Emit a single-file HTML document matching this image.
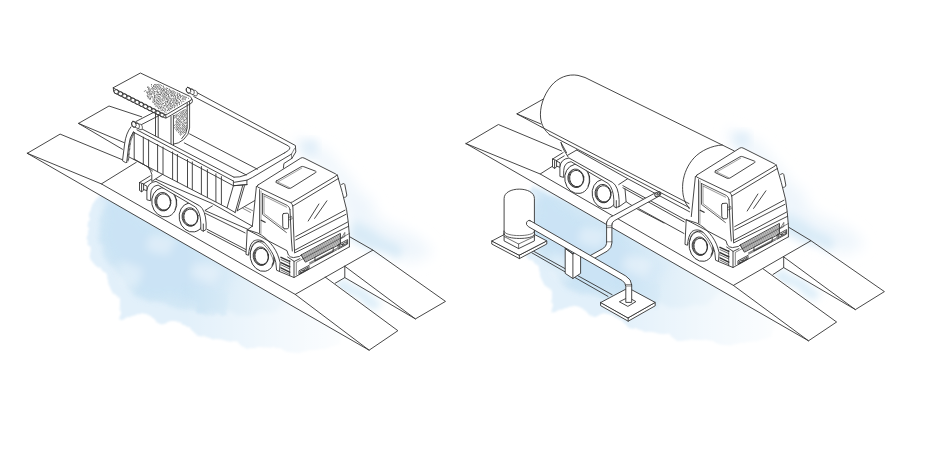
<!DOCTYPE html>
<html><head><meta charset="utf-8"><title>Weighbridge illustration</title>
<style>html,body{margin:0;padding:0;background:#fff;font-family:"Liberation Sans",sans-serif;}
svg{display:block}</style></head>
<body>
<svg width="938" height="453" viewBox="0 0 938 453" stroke-linecap="round" stroke-linejoin="round">
<defs>
<filter id="wcA" x="-15%" y="-15%" width="130%" height="130%">
<feTurbulence type="fractalNoise" baseFrequency="0.045" numOctaves="4" seed="3" result="n"/>
<feDisplacementMap in="SourceGraphic" in2="n" scale="14" xChannelSelector="R" yChannelSelector="G" result="d"/>
<feGaussianBlur in="d" stdDeviation="1.3"/>
</filter>
<filter id="wcA2" x="-15%" y="-15%" width="130%" height="130%">
<feTurbulence type="fractalNoise" baseFrequency="0.045" numOctaves="4" seed="8" result="n"/>
<feDisplacementMap in="SourceGraphic" in2="n" scale="14" xChannelSelector="R" yChannelSelector="G" result="d"/>
<feGaussianBlur in="d" stdDeviation="2.2"/>
</filter>
<filter id="wcS"><feGaussianBlur stdDeviation="0.8"/></filter>
<filter id="wcB" x="-15%" y="-15%" width="130%" height="130%">
<feTurbulence type="fractalNoise" baseFrequency="0.03" numOctaves="3" seed="11" result="n"/>
<feDisplacementMap in="SourceGraphic" in2="n" scale="18" xChannelSelector="R" yChannelSelector="G" result="d"/>
<feGaussianBlur in="d" stdDeviation="4"/>
</filter>
<filter id="wcC" x="-20%" y="-20%" width="140%" height="140%">
<feTurbulence type="fractalNoise" baseFrequency="0.03" numOctaves="3" seed="5" result="n"/>
<feDisplacementMap in="SourceGraphic" in2="n" scale="14" xChannelSelector="R" yChannelSelector="G" result="d"/>
<feGaussianBlur in="d" stdDeviation="7"/>
</filter>
<clipPath id="clipL"><path d="M0,137.6 L27.3,153.3 L369.1,350.2 L420,380 L420,453 L0,453Z"/></clipPath>
<clipPath id="clipR"><path d="M440,128.6 L466,143.6 L808.5,340.8 L880,382 L880,453 L440,453Z"/></clipPath>
<clipPath id="pitL"><path d="M344.8,277.6 L335.2,283.2 L397.9,330.7 L415.4,318.9Z"/></clipPath>
<clipPath id="pitR"><path d="M783.7,267.6 L773,274.5 L836.6,322 L855.4,309.6Z"/></clipPath>
<linearGradient id="fadeL" gradientUnits="userSpaceOnUse" x1="185" y1="0" x2="345" y2="0"><stop offset="0" stop-color="#fff" stop-opacity="0"/><stop offset="0.55" stop-color="#fff" stop-opacity="0.55"/><stop offset="1" stop-color="#fff" stop-opacity="0.9"/></linearGradient>
</defs>
<g clip-path="url(#clipL)"><g transform="translate(0,0)">
<path d="M118,203 L140,212 L200,240 L300,290 L350,322 L340,343 L300,352 L262,349 L229,341 L195,335 L175,321 L141,316 L122,318 L118,299 L98,271 L86,240 L89,216 L100,196 Z" fill="#e2f0fa" filter="url(#wcA)"/>
<path d="M120,204 L150,216 L200,242 L262,275 L292,296 L268,312 L238,318 L221,309 L200,314 L175,306 L146,300 L128,288 L110,262 L98,238 L100,216 L108,204 Z" fill="#d3e8f6" filter="url(#wcA2)"/>
<path d="M104,196 L180,238 L240,272 L222,300 L196,306 L170,298 L140,290 L120,270 L104,240 Z" fill="#c8e2f4" opacity="0.75" filter="url(#wcB)"/>
<path d="M183,286 L226,291 L228,314 L198,313 Z" fill="#c9e3f4" opacity="0.8" filter="url(#wcA)"/>
<path d="M150,232 L175,238 L168,258 L146,250 Z M196,262 L222,270 L214,284 L192,278 Z M120,262 L140,266 L136,286 L118,280 Z" fill="#ffffff" opacity="0.35" filter="url(#wcB)"/>
<rect x="170" y="215" width="230" height="160" fill="url(#fadeL)"/>
</g></g>
<g transform="translate(0,0)">
<path d="M297,136 L320,146 L352,180 L380,212 L412,238 L432,254 L414,264 L388,254 L362,242 L346,215 L336,180 L300,150 Z" fill="#eff6fc" filter="url(#wcC)"/>
<path d="M352,218 L378,234 L404,250 L396,259 L372,250 L350,238 Z" fill="#d9ebf7" filter="url(#wcB)"/>
<path d="M296,138 L312,144 L318,156 L304,152 Z" fill="#e2eff9" filter="url(#wcB)"/>
</g>
<g clip-path="url(#pitL)"><path transform="translate(0,0)" d="M344.8,277.6 L335.2,283.2 L372,311 L384,303Z" fill="#d6eaf7" filter="url(#wcB)"/></g>
<g clip-path="url(#clipR)"><g transform="translate(432,-7.5)">
<path d="M118,203 L140,212 L200,240 L300,290 L350,322 L340,343 L300,352 L262,349 L229,341 L195,335 L175,321 L141,316 L122,318 L118,299 L98,271 L86,240 L89,216 L100,196 Z" fill="#e2f0fa" filter="url(#wcA)"/>
<path d="M120,204 L150,216 L200,242 L262,275 L292,296 L268,312 L238,318 L221,309 L200,314 L175,306 L146,300 L128,288 L110,262 L98,238 L100,216 L108,204 Z" fill="#d3e8f6" filter="url(#wcA2)"/>
<path d="M104,196 L180,238 L240,272 L222,300 L196,306 L170,298 L140,290 L120,270 L104,240 Z" fill="#c8e2f4" opacity="0.75" filter="url(#wcB)"/>
<path d="M183,286 L226,291 L228,314 L198,313 Z" fill="#c9e3f4" opacity="0.8" filter="url(#wcA)"/>
<path d="M150,232 L175,238 L168,258 L146,250 Z M196,262 L222,270 L214,284 L192,278 Z M120,262 L140,266 L136,286 L118,280 Z" fill="#ffffff" opacity="0.35" filter="url(#wcB)"/>
<rect x="170" y="215" width="230" height="160" fill="url(#fadeL)"/>
</g></g>
<g transform="translate(432,-8)">
<path d="M297,136 L320,146 L352,180 L380,212 L412,238 L432,254 L414,264 L388,254 L362,242 L346,215 L336,180 L300,150 Z" fill="#eff6fc" filter="url(#wcC)"/>
<path d="M352,218 L378,234 L404,250 L396,259 L372,250 L350,238 Z" fill="#d9ebf7" filter="url(#wcB)"/>
<path d="M296,138 L312,144 L318,156 L304,152 Z" fill="#e2eff9" filter="url(#wcB)"/>
</g>
<g clip-path="url(#pitR)"><path transform="translate(438.9,-9.7)" d="M344.8,277.6 L335.2,283.2 L372,311 L384,303Z" fill="#d6eaf7" filter="url(#wcB)"/></g>
<path d="M27.3,153.3L369.1,350.2" fill="none" stroke="#333333" stroke-width="0.9" />
<path d="M27.3,153.3L60.1,134.1L122.3,159.7" fill="none" stroke="#333333" stroke-width="0.9" />
<path d="M27.3,153.3L101.4,183.9L136.3,162.3" fill="none" stroke="#333333" stroke-width="0.9" />
<path d="M101.4,183.9L295.2,294.4L372.9,250.1L349.6,236.7" fill="none" stroke="#333333" stroke-width="0.9" />
<path d="M124.3,142.7L78.5,123.4L109,106L141.7,116.8" fill="none" stroke="#333333" stroke-width="0.9" />
<path d="M78.5,123.4L122.5,149.3" fill="none" stroke="#333333" stroke-width="0.9" />
<path d="M295.2,294.4L369.1,350.2L397.9,330.7L325.2,277.1" fill="none" stroke="#333333" stroke-width="0.9" />
<path d="M344.8,266.3L344.8,277.6L335.2,283.2" fill="none" stroke="#333333" stroke-width="0.9" />
<path d="M344.8,266.3L415.4,318.9L445.5,301.4L372.9,250.1" fill="none" stroke="#333333" stroke-width="0.9" />
<path d="M344.8,277.6L415.4,318.9" fill="none" stroke="#333333" stroke-width="0.9" />
<path d="M196.4,92.3 L295.4,145.5 L295.8,151.9 L292,158.3" fill="none" stroke="#333333" stroke-width="0.9" />
<path d="M193.8,96.6 L288.5,146 Q290.4,147.4 289.6,149 Q288.8,150.6 284.7,152.8" fill="none" stroke="#333333" stroke-width="0.9" />
<path d="M294.5,148.5 L291.5,154.1 L291.6,158.3" fill="none" stroke="#333333" stroke-width="0.6" />
<path d="M187.57,87.45 L194.17,90.35 L194.17,90.35L194.86,90.28L195.58,90.50L196.25,90.98L196.80,91.68L197.19,92.52L197.38,93.44L197.34,94.33L197.08,95.11L196.63,95.71L196.03,96.06 L189.43,93.15L189.43,93.15L188.74,93.22L188.02,93.01L187.35,92.53L186.80,91.83L186.41,90.98L186.22,90.06L186.26,89.17L186.52,88.39L186.97,87.80L187.57,87.45Z" fill="#ffffff" stroke="#333333" stroke-width="0.8" />
<ellipse cx="188.5" cy="90.3" rx="2.2" ry="3.0" transform="rotate(-18 188.5 90.3)" fill="none" stroke="#333333" stroke-width="0.8"/>
<path d="M191.00,88.96L191.70,88.89L192.41,89.10L193.08,89.58L193.64,90.28L194.02,91.13L194.21,92.05L194.17,92.94L193.91,93.72L193.46,94.31L192.86,94.66" fill="none" stroke="#333333" stroke-width="0.8" />
<path d="M189.6,133.9L257.4,169.2" fill="none" stroke="#333333" stroke-width="0.9" />
<path d="M184.3,142.9L246.3,175" fill="none" stroke="#333333" stroke-width="0.9" />
<path d="M284.7,152.8 L245.5,175 Q240,177.6 234,177.2" fill="none" stroke="#333333" stroke-width="0.9" />
<path d="M291.5,154.1 L252.3,177.5 L246.9,180.2 L234.1,182.3" fill="none" stroke="#333333" stroke-width="0.9" />
<path d="M292,158.3 L283.9,163.5 L283.4,168.1" fill="none" stroke="#333333" stroke-width="0.9" />
<path d="M246.9,184.6 L234.1,185.7 M246.9,180.2 L246.9,184.6" fill="none" stroke="#333333" stroke-width="0.9" />
<path d="M135.8,121.6L154.4,112" fill="none" stroke="#333333" stroke-width="0.9" />
<path d="M141.1,124.8L158.7,115.7" fill="none" stroke="#333333" stroke-width="0.9" />
<path d="M155.5,113L155.5,135.80780000000001" fill="none" stroke="#333333" stroke-width="0.9" />
<path d="M158.2,114.5L158.2,137.17669999999998" fill="none" stroke="#333333" stroke-width="0.9" />
<path d="M171,116.5L171,143.6663" fill="none" stroke="#333333" stroke-width="0.9" />
<path d="M173.4,115.5L173.4,144.8831" fill="none" stroke="#333333" stroke-width="0.9" />
<path d="M173.4,144.2 Q178.5,143.8 183.5,139.6 Q189.4,134.6 189.6,128 L189.6,101.5" fill="none" stroke="#333333" stroke-width="0.9" />
<path d="M187.2,103 L187.2,128 Q187,133.6 181.8,138.6" fill="none" stroke="#333333" stroke-width="0.9" />
<path d="M113.3,87.7 L140.4,73 L189.5,96.2 Q193,98 191.2,100 L167.2,114.2 Q165.6,115 164,114.2 Z" fill="#ffffff" stroke="#333333" stroke-width="0.9" />
<path d="M113.3,87.7 L113.6,91.6 Q113.8,92.6 114.8,93.1 L163.6,117.5 Q165.8,118.4 167.4,117.4 L191.6,103 Q193,101.8 192.2,99.4" fill="none" stroke="#333333" stroke-width="0.9" />
<path d="M165.7,114.6 L165.9,118" fill="none" stroke="#333333" stroke-width="0.9" />
<ellipse cx="116.4" cy="91.7" rx="2.15" ry="2.15" transform="rotate(0 116.4 91.7)" fill="none" stroke="#333333" stroke-width="0.8"/>
<ellipse cx="120.56" cy="93.81" rx="2.15" ry="2.15" transform="rotate(0 120.56 93.81)" fill="none" stroke="#333333" stroke-width="0.8"/>
<ellipse cx="124.73" cy="95.92" rx="2.15" ry="2.15" transform="rotate(0 124.73 95.92)" fill="none" stroke="#333333" stroke-width="0.8"/>
<ellipse cx="128.89" cy="98.03" rx="2.15" ry="2.15" transform="rotate(0 128.89 98.03)" fill="none" stroke="#333333" stroke-width="0.8"/>
<ellipse cx="133.05" cy="100.14" rx="2.15" ry="2.15" transform="rotate(0 133.05 100.14)" fill="none" stroke="#333333" stroke-width="0.8"/>
<ellipse cx="137.22" cy="102.25" rx="2.15" ry="2.15" transform="rotate(0 137.22 102.25)" fill="none" stroke="#333333" stroke-width="0.8"/>
<ellipse cx="141.38" cy="104.35" rx="2.15" ry="2.15" transform="rotate(0 141.38 104.35)" fill="none" stroke="#333333" stroke-width="0.8"/>
<ellipse cx="145.55" cy="106.46" rx="2.15" ry="2.15" transform="rotate(0 145.55 106.46)" fill="none" stroke="#333333" stroke-width="0.8"/>
<ellipse cx="149.71" cy="108.57" rx="2.15" ry="2.15" transform="rotate(0 149.71 108.57)" fill="none" stroke="#333333" stroke-width="0.8"/>
<ellipse cx="153.87" cy="110.68" rx="2.15" ry="2.15" transform="rotate(0 153.87 110.68)" fill="none" stroke="#333333" stroke-width="0.8"/>
<ellipse cx="158.04" cy="112.79" rx="2.15" ry="2.15" transform="rotate(0 158.04 112.79)" fill="none" stroke="#333333" stroke-width="0.8"/>
<ellipse cx="162.2" cy="114.9" rx="2.15" ry="2.15" transform="rotate(0 162.2 114.9)" fill="none" stroke="#333333" stroke-width="0.8"/>
<path d="M148.0,86.8h0.01M151.6,84.5h0.01M147.5,87.4h0.01M149.0,87.6h0.01M151.4,86.1h0.01M154.7,84.5h0.01M144.3,91.3h0.01M145.7,90.6h0.01M148.3,89.6h0.01M148.6,88.4h0.01M153.5,86.5h0.01M153.4,85.6h0.01M155.3,84.9h0.01M156.1,84.4h0.01M147.0,91.6h0.01M149.5,90.0h0.01M149.8,88.8h0.01M151.8,88.4h0.01M152.6,87.5h0.01M154.2,87.1h0.01M154.9,86.1h0.01M156.5,85.8h0.01M157.5,84.7h0.01M158.8,84.3h0.01M146.8,92.6h0.01M148.9,92.0h0.01M148.8,91.0h0.01M150.3,90.6h0.01M150.9,89.4h0.01M152.6,89.1h0.01M153.3,88.4h0.01M155.9,87.7h0.01M155.4,86.9h0.01M157.3,86.5h0.01M158.9,85.4h0.01M160.2,84.7h0.01M147.5,93.8h0.01M147.5,92.8h0.01M149.0,92.6h0.01M149.7,91.6h0.01M151.9,91.4h0.01M153.7,89.9h0.01M154.6,88.9h0.01M156.6,88.7h0.01M157.1,87.4h0.01M158.9,86.9h0.01M159.8,86.2h0.01M161.6,85.6h0.01M148.2,94.7h0.01M149.3,93.7h0.01M151.0,93.4h0.01M150.9,92.1h0.01M152.9,91.9h0.01M153.2,90.7h0.01M155.7,89.4h0.01M158.0,88.9h0.01M158.8,87.9h0.01M160.4,87.3h0.01M163.1,86.1h0.01M147.6,96.6h0.01M147.2,95.6h0.01M149.6,94.9h0.01M150.4,94.2h0.01M151.6,94.0h0.01M152.7,92.9h0.01M154.1,92.6h0.01M154.4,91.5h0.01M156.7,91.2h0.01M157.6,90.1h0.01M159.2,89.5h0.01M159.8,88.5h0.01M161.0,88.1h0.01M163.3,86.7h0.01M148.7,97.1h0.01M148.9,96.3h0.01M151.0,96.1h0.01M151.2,94.7h0.01M153.2,94.1h0.01M154.2,93.4h0.01M155.8,91.8h0.01M157.5,91.7h0.01M160.7,90.1h0.01M161.3,89.2h0.01M162.4,88.7h0.01M163.6,87.9h0.01M148.2,98.0h0.01M150.2,97.7h0.01M152.2,96.5h0.01M154.5,95.3h0.01M154.8,94.0h0.01M157.0,93.9h0.01M157.3,92.5h0.01M158.7,92.2h0.01M160.0,91.3h0.01M162.2,90.7h0.01M161.6,89.8h0.01M163.4,89.5h0.01M164.3,88.2h0.01M166.3,88.0h0.01M149.6,98.8h0.01M150.6,98.5h0.01M151.9,97.2h0.01M154.3,95.9h0.01M155.4,95.9h0.01M156.8,94.6h0.01M158.2,94.5h0.01M158.4,93.0h0.01M160.9,92.8h0.01M161.1,91.9h0.01M162.6,91.1h0.01M163.7,90.4h0.01M164.6,89.9h0.01M165.5,89.1h0.01M167.5,88.5h0.01M150.1,99.5h0.01M152.9,98.0h0.01M154.5,97.5h0.01M154.6,96.7h0.01M157.0,96.1h0.01M157.9,95.2h0.01M159.4,94.5h0.01M159.9,94.0h0.01M161.7,93.5h0.01M161.9,92.5h0.01M164.0,91.8h0.01M164.2,90.8h0.01M166.4,90.8h0.01M166.5,89.4h0.01M169.1,89.1h0.01M153.2,99.7h0.01M154.1,98.3h0.01M156.0,98.1h0.01M156.0,97.4h0.01M158.4,96.6h0.01M160.7,95.2h0.01M160.4,94.4h0.01M163.0,94.2h0.01M163.6,93.2h0.01M165.6,92.6h0.01M165.8,91.7h0.01M167.4,90.8h0.01M169.7,89.6h0.01M152.8,101.8h0.01M153.2,100.8h0.01M154.5,100.3h0.01M154.7,99.3h0.01M157.5,97.9h0.01M160.0,97.3h0.01M159.3,96.4h0.01M161.8,96.1h0.01M162.3,94.9h0.01M164.5,94.5h0.01M164.6,93.2h0.01M166.4,93.2h0.01M166.6,92.1h0.01M168.8,91.4h0.01M169.1,90.6h0.01M170.9,90.4h0.01M153.2,102.5h0.01M154.6,101.5h0.01M156.1,100.7h0.01M156.5,99.7h0.01M158.1,99.3h0.01M158.5,98.4h0.01M160.2,98.0h0.01M163.0,96.5h0.01M163.2,95.6h0.01M165.0,95.4h0.01M165.8,94.1h0.01M167.1,93.7h0.01M168.0,92.7h0.01M170.2,92.5h0.01M170.4,91.2h0.01M172.6,91.0h0.01M155.1,103.2h0.01M155.1,101.8h0.01M157.2,101.9h0.01M157.6,100.5h0.01M159.4,100.0h0.01M159.8,98.9h0.01M162.0,98.9h0.01M163.1,97.6h0.01M164.2,96.8h0.01M165.1,96.3h0.01M166.5,95.5h0.01M167.3,94.5h0.01M168.4,94.3h0.01M169.3,93.3h0.01M171.2,92.6h0.01M171.5,91.6h0.01M173.4,91.1h0.01M154.3,104.0h0.01M156.2,103.7h0.01M156.4,102.4h0.01M158.4,101.9h0.01M158.7,101.3h0.01M160.2,100.7h0.01M161.0,99.6h0.01M162.9,99.0h0.01M164.0,98.2h0.01M165.1,97.6h0.01M166.0,97.1h0.01M168.3,96.4h0.01M168.4,95.0h0.01M170.7,94.8h0.01M171.2,93.8h0.01M172.5,93.3h0.01M173.1,92.6h0.01M174.5,91.8h0.01M155.1,104.7h0.01M157.8,104.1h0.01M157.8,103.5h0.01M159.7,102.9h0.01M160.3,101.7h0.01M162.1,100.9h0.01M162.7,100.1h0.01M164.7,100.0h0.01M165.0,98.9h0.01M166.5,98.7h0.01M167.1,97.2h0.01M169.2,96.9h0.01M168.8,95.9h0.01M171.3,95.5h0.01M171.9,94.8h0.01M173.8,93.1h0.01M175.8,92.4h0.01M156.0,106.5h0.01M156.2,105.3h0.01M159.1,104.9h0.01M158.6,104.0h0.01M160.8,103.5h0.01M161.7,102.1h0.01M163.7,100.9h0.01M166.5,99.2h0.01M167.7,98.8h0.01M168.8,97.9h0.01M171.2,96.5h0.01M172.4,95.7h0.01M173.2,94.9h0.01M174.4,94.7h0.01M175.0,93.5h0.01M177.6,93.0h0.01M157.7,106.8h0.01M158.0,105.8h0.01M160.0,104.5h0.01M162.6,104.1h0.01M162.8,103.2h0.01M164.9,102.6h0.01M165.5,101.3h0.01M167.2,101.1h0.01M167.5,99.9h0.01M168.8,99.7h0.01M169.6,98.2h0.01M170.8,98.1h0.01M173.6,96.4h0.01M174.6,95.6h0.01M176.0,95.3h0.01M177.1,94.1h0.01M179.0,93.6h0.01M158.1,107.6h0.01M159.6,106.6h0.01M161.0,106.2h0.01M161.5,104.8h0.01M163.6,103.6h0.01M165.5,103.2h0.01M166.5,101.9h0.01M167.6,101.5h0.01M168.6,100.8h0.01M170.2,100.3h0.01M170.8,98.9h0.01M172.1,98.7h0.01M173.2,98.1h0.01M175.2,97.1h0.01M175.4,96.3h0.01M177.4,95.5h0.01M177.8,94.5h0.01M179.4,94.1h0.01M158.6,108.6h0.01M159.8,108.2h0.01M160.5,107.5h0.01M161.7,106.7h0.01M163.1,105.8h0.01M164.7,105.5h0.01M165.4,104.1h0.01M166.9,103.9h0.01M167.5,102.4h0.01M169.2,102.5h0.01M170.0,101.3h0.01M171.8,100.6h0.01M171.7,99.7h0.01M173.9,99.6h0.01M174.1,98.3h0.01M175.8,97.8h0.01M177.3,96.9h0.01M178.6,96.7h0.01M179.6,95.4h0.01M180.6,95.0h0.01M160.8,108.7h0.01M161.9,107.8h0.01M163.3,107.5h0.01M164.2,106.1h0.01M165.9,105.8h0.01M166.1,104.9h0.01M168.6,104.4h0.01M169.1,103.4h0.01M170.3,103.0h0.01M170.7,101.7h0.01M173.0,101.4h0.01M173.3,100.3h0.01M175.2,99.8h0.01M175.5,98.7h0.01M177.3,98.4h0.01M177.7,97.2h0.01M180.3,96.8h0.01M180.1,95.7h0.01M182.2,95.5h0.01M161.0,110.0h0.01M162.6,109.7h0.01M163.1,108.2h0.01M165.0,108.2h0.01M167.0,106.5h0.01M167.4,105.5h0.01M169.9,104.9h0.01M170.0,103.7h0.01M171.2,103.6h0.01M172.6,102.5h0.01M173.9,102.1h0.01M174.6,100.8h0.01M176.5,100.6h0.01M176.6,99.7h0.01M178.8,98.8h0.01M178.9,98.0h0.01M180.4,97.7h0.01M181.2,96.5h0.01M183.2,96.1h0.01M162.0,110.6h0.01M163.7,110.4h0.01M164.8,109.0h0.01M166.5,107.1h0.01M167.9,107.2h0.01M168.9,105.8h0.01M170.7,105.3h0.01M171.2,104.2h0.01M173.3,104.1h0.01M173.9,103.0h0.01M175.4,102.7h0.01M176.0,101.3h0.01M177.2,101.1h0.01M177.8,100.3h0.01M179.6,99.5h0.01M182.4,98.2h0.01M183.1,97.0h0.01M184.8,96.4h0.01M165.2,110.7h0.01M165.7,109.3h0.01M168.1,108.2h0.01M169.7,107.9h0.01M170.3,106.5h0.01M171.8,106.2h0.01M172.5,105.4h0.01M174.1,104.7h0.01M175.1,103.4h0.01M176.6,103.4h0.01M176.9,102.0h0.01M178.7,102.0h0.01M180.6,100.4h0.01M182.0,99.2h0.01M183.9,98.6h0.01M184.1,97.6h0.01M185.9,97.1h0.01M164.5,111.8h0.01M167.2,110.2h0.01M168.6,109.6h0.01M168.9,108.9h0.01M170.6,108.4h0.01M171.8,107.1h0.01M172.8,107.1h0.01M173.9,105.8h0.01M175.0,105.5h0.01M176.3,104.1h0.01M177.6,103.8h0.01M178.1,102.9h0.01M179.3,102.4h0.01M180.6,100.9h0.01M182.8,99.9h0.01M184.1,99.4h0.01M185.6,98.1h0.01M186.7,97.6h0.01M166.0,112.2h0.01M167.7,110.6h0.01M169.3,110.4h0.01M170.3,109.1h0.01M171.6,108.8h0.01M172.7,107.8h0.01M174.5,107.6h0.01M174.9,106.4h0.01M177.2,105.8h0.01M177.1,105.0h0.01M179.4,104.5h0.01M179.4,103.2h0.01M181.6,103.0h0.01M182.0,101.6h0.01M183.8,101.4h0.01M185.6,99.8h0.01M188.6,98.3h0.01M174.4,115.5h0.01M175.8,115.0h0.01M176.9,114.2h0.01M178.3,113.5h0.01M179.7,112.6h0.01M181.1,111.6h0.01M182.5,111.0h0.01M183.6,110.4h0.01M185.0,109.5h0.01M175.1,116.4h0.01M176.3,115.6h0.01M177.7,114.9h0.01M180.6,113.2h0.01M181.8,112.6h0.01M183.1,111.7h0.01M184.3,110.9h0.01M185.9,110.1h0.01M174.5,117.9h0.01M175.9,117.4h0.01M176.9,116.5h0.01M178.3,115.6h0.01M179.9,114.8h0.01M181.3,113.9h0.01M182.4,113.2h0.01M183.7,112.7h0.01M185.3,111.8h0.01M186.4,110.9h0.01M176.3,118.1h0.01M179.2,116.5h0.01M180.6,115.4h0.01M181.9,115.1h0.01M183.0,114.3h0.01M184.3,113.4h0.01M185.6,112.7h0.01M177.3,118.7h0.01M178.6,118.2h0.01M179.7,117.2h0.01M181.2,116.5h0.01M182.4,115.9h0.01M183.8,114.8h0.01M184.9,114.4h0.01M186.3,113.7h0.01M176.5,120.3h0.01M177.7,119.6h0.01M178.9,119.2h0.01M180.6,118.1h0.01M181.8,117.3h0.01M183.0,116.6h0.01M184.6,115.8h0.01M185.7,115.2h0.01M175.9,121.9h0.01M176.9,121.5h0.01M178.3,120.5h0.01M179.6,119.8h0.01M181.0,119.1h0.01M182.3,118.1h0.01M183.8,117.4h0.01M185.0,116.7h0.01M176.5,122.8h0.01M177.6,122.3h0.01M179.2,121.4h0.01M180.2,120.8h0.01M181.9,119.6h0.01M183.2,118.8h0.01M185.8,117.4h0.01M174.5,125.3h0.01M175.8,124.3h0.01M176.9,123.9h0.01M178.4,122.9h0.01M179.8,121.9h0.01M181.0,121.3h0.01M183.6,120.0h0.01M184.9,119.2h0.01M186.5,118.3h0.01M176.3,125.3h0.01M177.7,124.4h0.01M178.9,123.8h0.01M180.3,123.0h0.01M181.6,122.4h0.01M183.1,121.4h0.01M184.5,120.5h0.01M185.9,119.7h0.01M174.4,127.8h0.01M175.9,126.9h0.01M177.1,126.2h0.01M178.3,125.3h0.01M179.7,124.6h0.01M182.3,123.2h0.01M184.0,122.1h0.01M176.4,127.8h0.01M177.7,126.9h0.01M179.3,125.9h0.01M180.5,125.1h0.01M182.0,124.4h0.01M183.1,123.8h0.01M184.3,122.9h0.01M185.8,122.2h0.01M175.8,129.2h0.01M177.2,128.4h0.01M178.5,127.6h0.01M179.7,126.9h0.01M182.4,125.5h0.01M183.8,124.6h0.01M185.3,123.6h0.01M186.3,122.9h0.01M176.4,130.1h0.01M177.6,129.5h0.01M179.0,128.5h0.01M180.5,127.7h0.01M181.9,126.9h0.01M183.2,126.2h0.01M184.6,125.4h0.01M177.0,131.0h0.01M178.4,130.1h0.01M179.8,129.2h0.01M181.1,128.5h0.01M182.6,127.8h0.01M183.8,126.9h0.01M185.0,126.3h0.01M186.3,125.7h0.01M178.9,131.0h0.01M180.6,130.1h0.01M182.0,129.2h0.01M183.2,128.5h0.01M184.5,127.7h0.01M185.9,127.0h0.01M178.4,132.6h0.01M179.8,131.8h0.01M181.0,131.2h0.01M182.4,130.0h0.01M183.9,129.5h0.01M185.3,128.5h0.01M186.4,127.9h0.01M180.5,132.4h0.01M181.6,131.8h0.01M183.1,131.0h0.01M184.4,130.2h0.01M185.8,129.4h0.01M179.9,134.1h0.01M180.9,133.6h0.01M182.5,132.4h0.01M183.7,131.7h0.01M185.2,130.9h0.01M186.4,130.1h0.01M180.4,135.1h0.01M181.8,134.3h0.01M183.3,133.2h0.01M184.5,132.4h0.01" stroke="#3c3c3c" stroke-width="0.85" stroke-linecap="round" fill="none"/>
<path d="M134.2,132.5L134.2,159.6" fill="none" stroke="#333333" stroke-width="0.9" />
<path d="M143.3,137.1L143.3,164.3" fill="none" stroke="#333333" stroke-width="0.9" />
<path d="M148.6,139.8L148.6,167.0" fill="none" stroke="#333333" stroke-width="0.9" />
<path d="M157.6,144.4L157.6,171.7" fill="none" stroke="#333333" stroke-width="0.9" />
<path d="M163,147.1L163,174.4" fill="none" stroke="#333333" stroke-width="0.9" />
<path d="M172.6,151.9L172.6,179.4" fill="none" stroke="#333333" stroke-width="0.9" />
<path d="M177.4,154.4L177.4,181.8" fill="none" stroke="#333333" stroke-width="0.9" />
<path d="M187.5,159.5L187.5,187.0" fill="none" stroke="#333333" stroke-width="0.9" />
<path d="M192.3,161.9L192.3,189.5" fill="none" stroke="#333333" stroke-width="0.9" />
<path d="M201.4,166.5L201.4,194.2" fill="none" stroke="#333333" stroke-width="0.9" />
<path d="M207.4,169.6L207.4,197.2" fill="none" stroke="#333333" stroke-width="0.9" />
<path d="M215.9,173.9L215.9,201.6" fill="none" stroke="#333333" stroke-width="0.9" />
<path d="M221.4,176.6L221.4,204.4" fill="none" stroke="#333333" stroke-width="0.9" />
<path d="M233.4,185.7 L227,207.8" fill="none" stroke="#333333" stroke-width="0.9" />
<path d="M242.8,185.2 L235.1,212.5 M244.5,185.7 L237.2,210.8" fill="none" stroke="#333333" stroke-width="0.9" />
<path d="M237.2,210.8 L254.7,200.6" fill="none" stroke="#333333" stroke-width="0.9" />
<path d="M244.9,207 L252.5,210.6 M242.8,208.3 L250.5,212.4" fill="none" stroke="#333333" stroke-width="0.6" />
<path d="M128.9,156.9 L227,207.8 L235.1,212.5" fill="none" stroke="#333333" stroke-width="0.9" />
<path d="M140.1,128.0L234,177.2" fill="none" stroke="#333333" stroke-width="0.9" />
<path d="M137,129.9L233.4,181" fill="none" stroke="#333333" stroke-width="0.9" />
<path d="M133.5,132.2L233.4,185.7" fill="none" stroke="#333333" stroke-width="0.9" />
<path d="M233.4,181 L233.4,185.7 L246.9,184.6" fill="none" stroke="#333333" stroke-width="0.9" />
<path d="M132.97,121.45 L139.17,124.17 L139.17,124.17L139.86,124.10L140.58,124.32L141.25,124.80L141.80,125.50L142.19,126.35L142.38,127.26L142.34,128.16L142.08,128.94L141.63,129.53L141.03,129.88 L134.83,127.15L134.83,127.15L134.14,127.22L133.42,127.01L132.75,126.53L132.20,125.83L131.81,124.98L131.62,124.06L131.66,123.17L131.92,122.39L132.37,121.80L132.97,121.45Z" fill="#ffffff" stroke="#333333" stroke-width="0.8" />
<ellipse cx="133.9" cy="124.3" rx="2.2" ry="3.0" transform="rotate(-18 133.9 124.3)" fill="none" stroke="#333333" stroke-width="0.8"/>
<path d="M136.20,122.87L136.89,122.79L137.60,123.01L138.27,123.49L138.83,124.19L139.22,125.04L139.40,125.95L139.36,126.85L139.10,127.63L138.65,128.22L138.05,128.57" fill="none" stroke="#333333" stroke-width="0.8" />
<path d="M131,126.8 Q126,133 124.6,144 L122.5,160.7 L125.5,162.6 L126.9,162.2" fill="none" stroke="#333333" stroke-width="0.9" />
<path d="M133.3,131.8 Q129.6,137 128.6,146 L126.7,162.3" fill="none" stroke="#333333" stroke-width="0.9" />
<path d="M134.3,132.6 Q130.7,137.6 129.7,146 L128,161.4" fill="none" stroke="#333333" stroke-width="1.7" stroke-dasharray="0.75 0.5" stroke-linecap="butt"/>
<path d="M134.2,159.1 L148,167 Q151,170.5 151.8,174.5 L151.8,181.5 L155,179.3 L162.4,174.5" fill="none" stroke="#333333" stroke-width="0.9" />
<path d="M148,167L152.5,171" fill="none" stroke="#333333" stroke-width="0.9" />
<path d="M156,179.3 L212.4,203.6 L252,226" fill="none" stroke="#333333" stroke-width="0.9" />
<path d="M212.4,205.9 L204.9,210.5 L248,229.4 L252,226.4" fill="none" stroke="#333333" stroke-width="0.9" />
<path d="M205.5,213.4 L245.1,232.9" fill="none" stroke="#333333" stroke-width="0.9" />
<path d="M207.2,229.4 L246,249.6 M207.2,231.7 L246,252" fill="none" stroke="#333333" stroke-width="0.9" />
<g transform="translate(0,0)">
<path d="M139.5,182.5 L150.2,175.9 M143.6,183.9 L151.2,179.3 M139.5,182.5 L139.5,190.5 L141.6,191.7 L143.6,190.3 L143.6,183.9 L139.5,182.5 M141.6,184 L141.6,191.7 M143.6,184.5 L147,186.2 L147,190.8 L143.6,189.5" fill="none" stroke="#333333" stroke-width="0.9" />
<ellipse cx="191.7" cy="217.4" rx="12.5" ry="14.7" transform="rotate(-11 191.7 217.4)" fill="#ffffff" stroke="#333333" stroke-width="0.9"/>
<ellipse cx="190.1" cy="217.0" rx="8.0" ry="9.3" transform="rotate(-11 190.1 217.0)" fill="#ffffff" stroke="#333333" stroke-width="0.9"/>
<ellipse cx="190.79999999999998" cy="217.2" rx="6.9" ry="8.2" transform="rotate(-11 190.79999999999998 217.2)" fill="none" stroke="#333333" stroke-width="0.9"/>
<path d="M194.49,224.64L193.64,225.13L192.74,225.48L191.79,225.69L190.82,225.76L189.85,225.67L188.88,225.44L187.95,225.06L187.05,224.55L186.22,223.91L185.45,223.16L184.77,222.30L184.19,221.35L183.72,220.33L183.36,219.25L183.12,218.14L183.01,217.01L183.02,215.88L183.16,214.77L183.43,213.70L183.82,212.69L184.32,211.76L184.92,210.91L185.62,210.18L186.41,209.56" fill="none" stroke="#333333" stroke-width="1.0" />
<path d="M192.29,203.65L193.26,203.81L194.23,204.07L195.17,204.42L196.10,204.87L197.00,205.40L197.86,206.01L198.68,206.71L199.45,207.48L200.17,208.32L200.83,209.22L201.43,210.18L201.96,211.19L202.42,212.24L202.81,213.33L203.13,214.45L203.36,215.58L203.51,216.74L203.59,217.89L203.58,219.04L203.49,220.18L203.31,221.31L203.06,222.40L202.73,223.46L202.33,224.48" fill="none" stroke="#333333" stroke-width="0.6" />
<ellipse cx="164.3" cy="202.3" rx="12.5" ry="14.7" transform="rotate(-11 164.3 202.3)" fill="#ffffff" stroke="#333333" stroke-width="0.9"/>
<ellipse cx="162.9" cy="201.7" rx="8.0" ry="9.3" transform="rotate(-11 162.9 201.7)" fill="#ffffff" stroke="#333333" stroke-width="0.9"/>
<ellipse cx="163.6" cy="201.89999999999998" rx="6.9" ry="8.2" transform="rotate(-11 163.6 201.89999999999998)" fill="none" stroke="#333333" stroke-width="0.9"/>
<path d="M167.29,209.34L166.44,209.83L165.54,210.18L164.59,210.39L163.62,210.46L162.65,210.37L161.68,210.14L160.75,209.76L159.85,209.25L159.02,208.61L158.25,207.86L157.57,207.00L156.99,206.05L156.52,205.03L156.16,203.95L155.92,202.84L155.81,201.71L155.82,200.58L155.96,199.47L156.23,198.40L156.62,197.39L157.12,196.46L157.72,195.61L158.42,194.88L159.21,194.26" fill="none" stroke="#333333" stroke-width="1.0" />
<path d="M164.89,188.55L165.86,188.71L166.83,188.97L167.77,189.32L168.70,189.77L169.60,190.30L170.46,190.91L171.28,191.61L172.05,192.38L172.77,193.22L173.43,194.12L174.03,195.08L174.56,196.09L175.02,197.14L175.41,198.23L175.73,199.35L175.96,200.48L176.11,201.64L176.19,202.79L176.18,203.94L176.09,205.08L175.91,206.21L175.66,207.30L175.33,208.36L174.93,209.38" fill="none" stroke="#333333" stroke-width="0.6" />
<path d="M146.9,199.4 L146.9,191 Q147.4,182.4 156,181.4 L199.7,205.9 Q205.4,210 206.1,223 L206.1,229.5 L203.3,231.2 L200.8,229.8 L200.8,223 Q200.5,212.5 195.4,207 L158.1,185.1 Q151,186 150.7,194 L150.7,200.4 Z" fill="#ffffff" stroke="#333333" stroke-width="0.9" />
<path d="M203.3,231.2L203.3,224" fill="none" stroke="#333333" stroke-width="0.9" />
</g>
<g transform="translate(0,0)">
<ellipse cx="262.4" cy="256.2" rx="12.2" ry="15.3" transform="rotate(-11 262.4 256.2)" fill="#ffffff" stroke="#333333" stroke-width="0.9"/>
<ellipse cx="260.9" cy="256.2" rx="7.7" ry="9.3" transform="rotate(-11 260.9 256.2)" fill="#ffffff" stroke="#333333" stroke-width="0.9"/>
<ellipse cx="261.6" cy="256.4" rx="6.6" ry="8.2" transform="rotate(-11 261.6 256.4)" fill="none" stroke="#333333" stroke-width="0.9"/>
<path d="M265.19,263.86L264.38,264.34L263.51,264.69L262.60,264.89L261.67,264.95L260.74,264.85L259.81,264.61L258.91,264.23L258.04,263.71L257.23,263.07L256.49,262.31L255.83,261.45L255.27,260.49L254.80,259.47L254.45,258.39L254.21,257.28L254.10,256.15L254.10,255.02L254.23,253.92L254.48,252.85L254.84,251.85L255.32,250.92L255.89,250.08L256.56,249.35L257.31,248.74" fill="none" stroke="#333333" stroke-width="1.0" />
<path d="M262.29,241.79L263.31,241.92L264.33,242.17L265.34,242.53L266.32,243.00L267.27,243.59L268.19,244.28L269.06,245.06L269.87,245.94L270.62,246.91L271.31,247.95L271.93,249.06L272.47,250.22L272.93,251.44L273.30,252.70L273.58,253.98L273.78,255.28L273.88,256.59L273.88,257.90L273.80,259.20L273.62,260.46L273.35,261.70L272.99,262.89L272.55,264.02L272.03,265.09" fill="none" stroke="#333333" stroke-width="1.0" />
<path d="M256.4,186 L302.3,157.2 L337.2,174.7 L342.3,192.6 L346.6,209.7 L348.6,222 L349.4,236 L349.4,246.8 L294,277.5 L279.5,271.5 L273,249 L262,238.5 L252.3,233 Z" fill="#ffffff" stroke="none" stroke-width="0.9" />
<path d="M258,185 L300.8,158.1 Q302.3,157.2 304,158 L335.6,173.9 Q337.6,174.9 336,176 L292.4,202 Q290.8,203 289,202 L257.6,187 Q256,186.2 258,185 Z" fill="none" stroke="#333333" stroke-width="0.9" />
<path d="M276.4,181 L301,166.8 Q302.3,166.1 303.8,166.7 L315.4,171.1 Q317,171.8 315.6,172.6 L291,188 Q289.6,188.8 288,188.2 L276.2,182.6 Q274.8,181.9 276.4,181 Z" fill="none" stroke="#333333" stroke-width="0.9" />
<path d="M277.8,182 L301.8,168.1 M277.8,182 L289.6,187.6" fill="none" stroke="#333333" stroke-width="0.45" />
<path d="M292.9,206 L338.6,178.4" fill="none" stroke="#333333" stroke-width="0.9" />
<path d="M337.2,174.7 L342.3,192.6 L346.6,209.7 Q348.6,222 349.4,236 L349.4,246.8" fill="none" stroke="#333333" stroke-width="0.9" />
<path d="M341.6,184.4 L343.4,183.6 Q344.4,183.4 344.8,184.6 L346.8,195 Q346.9,196.6 345.6,197 L344.6,197.3" fill="#ffffff" stroke="#333333" stroke-width="0.9" />
<path d="M256.4,186.4 L252.3,226.6" fill="none" stroke="#333333" stroke-width="0.9" />
<path d="M259.5,189.6 L259.5,233" fill="none" stroke="#333333" stroke-width="0.8" />
<path d="M261,191 L260.9,233.5" fill="none" stroke="#333333" stroke-width="0.5" />
<path d="M262.5,193.5 L287.2,205.4 Q289.6,206.7 290,209.5 M262.5,193.5 L262.5,214.4 L286.4,232.5" fill="none" stroke="#333333" stroke-width="0.8" />
<path d="M264,196 L264,213.6 L284.5,229.2 M264,196 L286.6,207.2" fill="none" stroke="#333333" stroke-width="0.5" />
<path d="M290.8,202.8 Q292.6,204 292.9,207 L293.5,228 L294.6,252.5 M290,209.5 L291.4,240 L292.3,251" fill="none" stroke="#333333" stroke-width="0.9" />
<path d="M283.6,213.5 L287.2,213.2 Q288.6,213.4 288.6,214.8 L288.6,227.4 Q288.5,228.7 287.2,228.8 L284.9,228.8 Q283,228.4 282.8,226.4 L282.6,215 Q282.6,213.6 283.6,213.5 Z" fill="#ffffff" stroke="#333333" stroke-width="0.9" />
<path d="M288.8,217.4 L291.6,216.4 L292.2,218.8 L288.8,220" fill="none" stroke="#333333" stroke-width="0.6" />
<path d="M261.2,220.2 L265.1,222.3" fill="none" stroke="#333333" stroke-width="1.3" />
<path d="M318.9,204L308.2,221" fill="none" stroke="#333333" stroke-width="0.9" />
<path d="M326.9,200.8L314.6,218.4" fill="none" stroke="#333333" stroke-width="0.9" />
<path d="M295.7,236.6 L345.1,210.1 M295.7,240 L346,214.3" fill="none" stroke="#333333" stroke-width="0.9" />
<path d="M294.8,250.2 L347.7,222 M294.8,252.8 L348.5,226.3" fill="none" stroke="#333333" stroke-width="0.9" />
<path d="M301.4,254.8L340.4,233.4L340.4,244L305.8,262Z" fill="none" stroke="#333333" stroke-width="0.9" />
<path d="M301.9,255.7L340.4,234.7" fill="none" stroke="#222" stroke-width="0.5" />
<path d="M302.5,256.6L340.4,236.1" fill="none" stroke="#222" stroke-width="0.5" />
<path d="M303.1,257.5L340.4,237.4" fill="none" stroke="#222" stroke-width="0.5" />
<path d="M303.6,258.4L340.4,238.7" fill="none" stroke="#222" stroke-width="0.5" />
<path d="M304.1,259.3L340.4,240.0" fill="none" stroke="#222" stroke-width="0.5" />
<path d="M304.7,260.2L340.4,241.3" fill="none" stroke="#222" stroke-width="0.5" />
<path d="M305.2,261.1L340.4,242.7" fill="none" stroke="#222" stroke-width="0.5" />
<path d="M315.3,257L333.2,247.6L333.2,251.4L315.3,260.8Z" fill="#ffffff" stroke="#333333" stroke-width="0.9" />
<path d="M309.3,263 L337.4,248.1 M309.3,264.4 L337.4,249.5" fill="none" stroke="#333333" stroke-width="0.5" />
<path d="M310.0,262.6L310.0,264.0" fill="none" stroke="#333333" stroke-width="0.4" />
<path d="M311.1,262.1L311.1,263.5" fill="none" stroke="#333333" stroke-width="0.4" />
<path d="M312.1,261.5L312.1,262.9" fill="none" stroke="#333333" stroke-width="0.4" />
<path d="M313.1,261.0L313.1,262.4" fill="none" stroke="#333333" stroke-width="0.4" />
<path d="M314.2,260.4L314.2,261.8" fill="none" stroke="#333333" stroke-width="0.4" />
<path d="M315.2,259.8L315.2,261.2" fill="none" stroke="#333333" stroke-width="0.4" />
<path d="M316.3,259.3L316.3,260.7" fill="none" stroke="#333333" stroke-width="0.4" />
<path d="M317.4,258.7L317.4,260.1" fill="none" stroke="#333333" stroke-width="0.4" />
<path d="M318.4,258.2L318.4,259.6" fill="none" stroke="#333333" stroke-width="0.4" />
<path d="M319.4,257.6L319.4,259.0" fill="none" stroke="#333333" stroke-width="0.4" />
<path d="M320.5,257.1L320.5,258.5" fill="none" stroke="#333333" stroke-width="0.4" />
<path d="M321.6,256.5L321.6,257.9" fill="none" stroke="#333333" stroke-width="0.4" />
<path d="M322.6,256.0L322.6,257.4" fill="none" stroke="#333333" stroke-width="0.4" />
<path d="M323.6,255.4L323.6,256.8" fill="none" stroke="#333333" stroke-width="0.4" />
<path d="M324.7,254.8L324.7,256.2" fill="none" stroke="#333333" stroke-width="0.4" />
<path d="M325.8,254.3L325.8,255.7" fill="none" stroke="#333333" stroke-width="0.4" />
<path d="M326.8,253.7L326.8,255.1" fill="none" stroke="#333333" stroke-width="0.4" />
<path d="M327.9,253.2L327.9,254.6" fill="none" stroke="#333333" stroke-width="0.4" />
<path d="M328.9,252.6L328.9,254.0" fill="none" stroke="#333333" stroke-width="0.4" />
<path d="M329.9,252.1L329.9,253.5" fill="none" stroke="#333333" stroke-width="0.4" />
<path d="M331.0,251.5L331.0,252.9" fill="none" stroke="#333333" stroke-width="0.4" />
<path d="M332.1,250.9L332.1,252.3" fill="none" stroke="#333333" stroke-width="0.4" />
<path d="M333.1,250.4L333.1,251.8" fill="none" stroke="#333333" stroke-width="0.4" />
<path d="M334.1,249.8L334.1,251.2" fill="none" stroke="#333333" stroke-width="0.4" />
<path d="M335.2,249.3L335.2,250.7" fill="none" stroke="#333333" stroke-width="0.4" />
<path d="M336.2,248.7L336.2,250.1" fill="none" stroke="#333333" stroke-width="0.4" />
<path d="M299.3,270.6L309,265.4L309,268.9L299.3,274.1Z" fill="none" stroke="#333333" stroke-width="0.9" />
<path d="M300.5,271.4 L303.3,269.9 L303.3,271.6 L300.5,273.1Z M304.4,269.3 L307.9,267.4 L307.9,268.9 L304.4,270.8Z" fill="none" stroke="#333333" stroke-width="0.9" />
<path d="M338.4,244.6L347.6,239.6L347.6,244L338.4,249Z" fill="none" stroke="#333333" stroke-width="0.9" />
<path d="M339.6,245.4 L342.5,243.9 L342.5,245.8 L339.6,247.3Z M343.6,243.3 L346.7,241.6 L346.7,243.4 L343.6,245.2Z" fill="none" stroke="#333333" stroke-width="0.9" />
<path d="M341.4,238.2 L344.8,232.4 L344.8,236.2 Z" fill="none" stroke="#333333" stroke-width="0.6" />
<path d="M279.5,271.5 L294,277.5 L349.4,246.8" fill="none" stroke="#333333" stroke-width="0.9" />
<path d="M294,277.5 L294,261.5" fill="none" stroke="#333333" stroke-width="0.9" />
<path d="M296.3,275 L296.3,262.4 L349.4,233.5" fill="none" stroke="#333333" stroke-width="0.6" />
<path d="M287.2,251.4 L288.4,255 Q290,257.4 293.5,257.6 L299.5,256.4 L301.4,254.6" fill="none" stroke="#333333" stroke-width="0.9" />
<path d="M287.6,257 L294.2,261.4 L300,258.6" fill="none" stroke="#333333" stroke-width="0.9" />
<path d="M281,257.4 L289.7,261.4 M281,262.6 L289.7,266.8 M281,267.8 L289.7,272.2" fill="none" stroke="#333333" stroke-width="1.5" />
<path d="M281,259.6 L289.7,263.6 M281,264.8 L289.7,269 M281,270 L289.7,274.4 M289.7,260.4 L289.7,275.7" fill="none" stroke="#333333" stroke-width="0.7" />
<path d="M246,254 L247.2,229.7 L257.9,233.1 C263,235.5 267.3,239.5 270.5,243.3 C274.1,247.2 277.5,253.1 278.8,258 L280.1,262.5 L279.5,271.5 L276.6,270.2 L275.8,262.5 C274.1,254.9 269.9,248 263.9,242.1 C260,239 255.8,239.6 253,241.5 C249.6,245 249,250 248.5,254.9 Z" fill="#ffffff" stroke="#333333" stroke-width="0.9" />
<path d="M250.2,254 C250.6,249 251.6,245.6 254,243.2 C257,241 260.4,241.6 263.4,244.2 C268.6,249 272.4,255.6 274,262.8" fill="none" stroke="#333333" stroke-width="0.6" />
<path d="M247.2,229.7 L286.9,250.6" fill="none" stroke="#333333" stroke-width="0.9" />
</g>
<path d="M466,143.6L808.5,340.8" fill="none" stroke="#333333" stroke-width="0.9" />
<path d="M466,143.6L498.4,124.5L561.5,150.9" fill="none" stroke="#333333" stroke-width="0.9" />
<path d="M466,143.6L540.2,174L552.5,166.2" fill="none" stroke="#333333" stroke-width="0.9" />
<path d="M567.6,155.3L576.7,150" fill="none" stroke="#333333" stroke-width="0.9" />
<path d="M540.2,174L733.4,285.4L811,240.7L788.6,227.2" fill="none" stroke="#333333" stroke-width="0.9" />
<path d="M541,124L516.9,113.9L543.6,98.9" fill="none" stroke="#333333" stroke-width="0.9" />
<path d="M733.4,285.4L808.5,340.8L836.6,322L763.3,269" fill="none" stroke="#333333" stroke-width="0.9" />
<path d="M783.7,256.9L783.7,267.6L773,274.5" fill="none" stroke="#333333" stroke-width="0.9" />
<path d="M783.7,256.9L855.4,309.6L884.4,291.6L811,240.7" fill="none" stroke="#333333" stroke-width="0.9" />
<path d="M783.7,267.6L855.4,309.6" fill="none" stroke="#333333" stroke-width="0.9" />
<path d="M549.4,134.6 C545,130.5 541.6,126 540.6,118 C539.6,108 543,96 551,86 C558,77.5 568,73.6 578,75.4 L585,77.5 L734.2,150.9 L689.3,207.6 Z" fill="#ffffff" stroke="none" stroke-width="0.9" />
<path d="M549.4,134.6 C545,130.5 541.6,126 540.6,118 C539.6,108 543,96 551,86 C558,77.5 568,73.6 578,75.4 L585,77.5 L734.2,150.9" fill="none" stroke="#333333" stroke-width="0.9" />
<path d="M516.9,113.9L541,126.8" fill="none" stroke="#333333" stroke-width="0.9" />
<path d="M541,126.8L689,203.6" fill="none" stroke="#333333" stroke-width="0.9" />
<path d="M549.4,134.6L689.3,207.6" fill="none" stroke="#333333" stroke-width="0.9" />
<path d="M722.3,145 C712,145.5 701,150.5 694.1,157.8 C688,164.5 684,173 682.8,183 C682,192 683.5,199 686,203.5 L689.3,208.7" fill="none" stroke="#333333" stroke-width="0.9" />
<path d="M561,142.6 Q561.6,146 563.9,150 L568.1,157 M561,142.6 L566.5,152.6" fill="none" stroke="#333333" stroke-width="0.9" />
<path d="M576.7,150 L627.7,178.7 L689.6,211.8 M627.7,178.7 L618.7,184.6" fill="none" stroke="#333333" stroke-width="0.9" />
<path d="M622.9,185.7 L685.3,219.8 M622.9,187.8 L684.2,221.9" fill="none" stroke="#333333" stroke-width="0.9" />
<path d="M625,188.9 L626.1,201.7 L637.3,209.1 L664,223 M618.7,207 L626.1,201.7" fill="none" stroke="#333333" stroke-width="0.9" />
<path d="M638.9,208.7 L684,233.5" fill="none" stroke="#333333" stroke-width="0.9" />
<path d="M655.4,192.8 L613.3,215.7 Q607.4,217.8 606.6,223 L611.9,224.5 Q612.2,221.8 614.6,220.6 L659.7,195.8 Z" fill="#ffffff" stroke="none" stroke-width="0.9" />
<path d="M655.4,192.8 L613.3,215.7 Q607.4,217.8 606.6,223 M659.7,195.8 L614.6,220.6 Q612.2,221.8 611.9,224.5" fill="none" stroke="#333333" stroke-width="0.9" />
<ellipse cx="657.8" cy="194.2" rx="3.2" ry="2.1" transform="rotate(-28 657.8 194.2)" fill="#ffffff" stroke="#333333" stroke-width="0.9"/>
<ellipse cx="658.3" cy="193.9" rx="1.6" ry="0.9" transform="rotate(-28 658.3 193.9)" fill="none" stroke="#333333" stroke-width="1.0"/>
<g transform="translate(413,-23.4)">
<path d="M139.5,182.5 L150.2,175.9 M143.6,183.9 L151.2,179.3 M139.5,182.5 L139.5,190.5 L141.6,191.7 L143.6,190.3 L143.6,183.9 L139.5,182.5 M141.6,184 L141.6,191.7 M143.6,184.5 L147,186.2 L147,190.8 L143.6,189.5" fill="none" stroke="#333333" stroke-width="0.9" />
<ellipse cx="191.7" cy="217.4" rx="12.5" ry="14.7" transform="rotate(-11 191.7 217.4)" fill="#ffffff" stroke="#333333" stroke-width="0.9"/>
<ellipse cx="190.1" cy="217.0" rx="8.0" ry="9.3" transform="rotate(-11 190.1 217.0)" fill="#ffffff" stroke="#333333" stroke-width="0.9"/>
<ellipse cx="190.79999999999998" cy="217.2" rx="6.9" ry="8.2" transform="rotate(-11 190.79999999999998 217.2)" fill="none" stroke="#333333" stroke-width="0.9"/>
<path d="M194.49,224.64L193.64,225.13L192.74,225.48L191.79,225.69L190.82,225.76L189.85,225.67L188.88,225.44L187.95,225.06L187.05,224.55L186.22,223.91L185.45,223.16L184.77,222.30L184.19,221.35L183.72,220.33L183.36,219.25L183.12,218.14L183.01,217.01L183.02,215.88L183.16,214.77L183.43,213.70L183.82,212.69L184.32,211.76L184.92,210.91L185.62,210.18L186.41,209.56" fill="none" stroke="#333333" stroke-width="1.0" />
<path d="M192.29,203.65L193.26,203.81L194.23,204.07L195.17,204.42L196.10,204.87L197.00,205.40L197.86,206.01L198.68,206.71L199.45,207.48L200.17,208.32L200.83,209.22L201.43,210.18L201.96,211.19L202.42,212.24L202.81,213.33L203.13,214.45L203.36,215.58L203.51,216.74L203.59,217.89L203.58,219.04L203.49,220.18L203.31,221.31L203.06,222.40L202.73,223.46L202.33,224.48" fill="none" stroke="#333333" stroke-width="0.6" />
<ellipse cx="164.3" cy="202.3" rx="12.5" ry="14.7" transform="rotate(-11 164.3 202.3)" fill="#ffffff" stroke="#333333" stroke-width="0.9"/>
<ellipse cx="162.9" cy="201.7" rx="8.0" ry="9.3" transform="rotate(-11 162.9 201.7)" fill="#ffffff" stroke="#333333" stroke-width="0.9"/>
<ellipse cx="163.6" cy="201.89999999999998" rx="6.9" ry="8.2" transform="rotate(-11 163.6 201.89999999999998)" fill="none" stroke="#333333" stroke-width="0.9"/>
<path d="M167.29,209.34L166.44,209.83L165.54,210.18L164.59,210.39L163.62,210.46L162.65,210.37L161.68,210.14L160.75,209.76L159.85,209.25L159.02,208.61L158.25,207.86L157.57,207.00L156.99,206.05L156.52,205.03L156.16,203.95L155.92,202.84L155.81,201.71L155.82,200.58L155.96,199.47L156.23,198.40L156.62,197.39L157.12,196.46L157.72,195.61L158.42,194.88L159.21,194.26" fill="none" stroke="#333333" stroke-width="1.0" />
<path d="M164.89,188.55L165.86,188.71L166.83,188.97L167.77,189.32L168.70,189.77L169.60,190.30L170.46,190.91L171.28,191.61L172.05,192.38L172.77,193.22L173.43,194.12L174.03,195.08L174.56,196.09L175.02,197.14L175.41,198.23L175.73,199.35L175.96,200.48L176.11,201.64L176.19,202.79L176.18,203.94L176.09,205.08L175.91,206.21L175.66,207.30L175.33,208.36L174.93,209.38" fill="none" stroke="#333333" stroke-width="0.6" />
<path d="M146.9,199.4 L146.9,191 Q147.4,182.4 156,181.4 L199.7,205.9 Q205.4,210 206.1,223 L206.1,229.5 L203.3,231.2 L200.8,229.8 L200.8,223 Q200.5,212.5 195.4,207 L158.1,185.1 Q151,186 150.7,194 L150.7,200.4 Z" fill="#ffffff" stroke="#333333" stroke-width="0.9" />
<path d="M203.3,231.2L203.3,224" fill="none" stroke="#333333" stroke-width="0.9" />
</g>
<g transform="translate(439,-10)">
<ellipse cx="262.4" cy="256.2" rx="12.2" ry="15.3" transform="rotate(-11 262.4 256.2)" fill="#ffffff" stroke="#333333" stroke-width="0.9"/>
<ellipse cx="260.9" cy="256.2" rx="7.7" ry="9.3" transform="rotate(-11 260.9 256.2)" fill="#ffffff" stroke="#333333" stroke-width="0.9"/>
<ellipse cx="261.6" cy="256.4" rx="6.6" ry="8.2" transform="rotate(-11 261.6 256.4)" fill="none" stroke="#333333" stroke-width="0.9"/>
<path d="M265.19,263.86L264.38,264.34L263.51,264.69L262.60,264.89L261.67,264.95L260.74,264.85L259.81,264.61L258.91,264.23L258.04,263.71L257.23,263.07L256.49,262.31L255.83,261.45L255.27,260.49L254.80,259.47L254.45,258.39L254.21,257.28L254.10,256.15L254.10,255.02L254.23,253.92L254.48,252.85L254.84,251.85L255.32,250.92L255.89,250.08L256.56,249.35L257.31,248.74" fill="none" stroke="#333333" stroke-width="1.0" />
<path d="M262.29,241.79L263.31,241.92L264.33,242.17L265.34,242.53L266.32,243.00L267.27,243.59L268.19,244.28L269.06,245.06L269.87,245.94L270.62,246.91L271.31,247.95L271.93,249.06L272.47,250.22L272.93,251.44L273.30,252.70L273.58,253.98L273.78,255.28L273.88,256.59L273.88,257.90L273.80,259.20L273.62,260.46L273.35,261.70L272.99,262.89L272.55,264.02L272.03,265.09" fill="none" stroke="#333333" stroke-width="1.0" />
<path d="M256.4,186 L302.3,157.2 L337.2,174.7 L342.3,192.6 L346.6,209.7 L348.6,222 L349.4,236 L349.4,246.8 L294,277.5 L279.5,271.5 L273,249 L262,238.5 L252.3,233 Z" fill="#ffffff" stroke="none" stroke-width="0.9" />
<path d="M258,185 L300.8,158.1 Q302.3,157.2 304,158 L335.6,173.9 Q337.6,174.9 336,176 L292.4,202 Q290.8,203 289,202 L257.6,187 Q256,186.2 258,185 Z" fill="none" stroke="#333333" stroke-width="0.9" />
<path d="M276.4,181 L301,166.8 Q302.3,166.1 303.8,166.7 L315.4,171.1 Q317,171.8 315.6,172.6 L291,188 Q289.6,188.8 288,188.2 L276.2,182.6 Q274.8,181.9 276.4,181 Z" fill="none" stroke="#333333" stroke-width="0.9" />
<path d="M277.8,182 L301.8,168.1 M277.8,182 L289.6,187.6" fill="none" stroke="#333333" stroke-width="0.45" />
<path d="M292.9,206 L338.6,178.4" fill="none" stroke="#333333" stroke-width="0.9" />
<path d="M337.2,174.7 L342.3,192.6 L346.6,209.7 Q348.6,222 349.4,236 L349.4,246.8" fill="none" stroke="#333333" stroke-width="0.9" />
<path d="M341.6,184.4 L343.4,183.6 Q344.4,183.4 344.8,184.6 L346.8,195 Q346.9,196.6 345.6,197 L344.6,197.3" fill="#ffffff" stroke="#333333" stroke-width="0.9" />
<path d="M256.4,186.4 L252.3,226.6" fill="none" stroke="#333333" stroke-width="0.9" />
<path d="M259.5,189.6 L259.5,233" fill="none" stroke="#333333" stroke-width="0.8" />
<path d="M261,191 L260.9,233.5" fill="none" stroke="#333333" stroke-width="0.5" />
<path d="M262.5,193.5 L287.2,205.4 Q289.6,206.7 290,209.5 M262.5,193.5 L262.5,214.4 L286.4,232.5" fill="none" stroke="#333333" stroke-width="0.8" />
<path d="M264,196 L264,213.6 L284.5,229.2 M264,196 L286.6,207.2" fill="none" stroke="#333333" stroke-width="0.5" />
<path d="M290.8,202.8 Q292.6,204 292.9,207 L293.5,228 L294.6,252.5 M290,209.5 L291.4,240 L292.3,251" fill="none" stroke="#333333" stroke-width="0.9" />
<path d="M283.6,213.5 L287.2,213.2 Q288.6,213.4 288.6,214.8 L288.6,227.4 Q288.5,228.7 287.2,228.8 L284.9,228.8 Q283,228.4 282.8,226.4 L282.6,215 Q282.6,213.6 283.6,213.5 Z" fill="#ffffff" stroke="#333333" stroke-width="0.9" />
<path d="M288.8,217.4 L291.6,216.4 L292.2,218.8 L288.8,220" fill="none" stroke="#333333" stroke-width="0.6" />
<path d="M261.2,220.2 L265.1,222.3" fill="none" stroke="#333333" stroke-width="1.3" />
<path d="M318.9,204L308.2,221" fill="none" stroke="#333333" stroke-width="0.9" />
<path d="M326.9,200.8L314.6,218.4" fill="none" stroke="#333333" stroke-width="0.9" />
<path d="M295.7,236.6 L345.1,210.1 M295.7,240 L346,214.3" fill="none" stroke="#333333" stroke-width="0.9" />
<path d="M294.8,250.2 L347.7,222 M294.8,252.8 L348.5,226.3" fill="none" stroke="#333333" stroke-width="0.9" />
<path d="M301.4,254.8L340.4,233.4L340.4,244L305.8,262Z" fill="none" stroke="#333333" stroke-width="0.9" />
<path d="M301.9,255.7L340.4,234.7" fill="none" stroke="#222" stroke-width="0.5" />
<path d="M302.5,256.6L340.4,236.1" fill="none" stroke="#222" stroke-width="0.5" />
<path d="M303.1,257.5L340.4,237.4" fill="none" stroke="#222" stroke-width="0.5" />
<path d="M303.6,258.4L340.4,238.7" fill="none" stroke="#222" stroke-width="0.5" />
<path d="M304.1,259.3L340.4,240.0" fill="none" stroke="#222" stroke-width="0.5" />
<path d="M304.7,260.2L340.4,241.3" fill="none" stroke="#222" stroke-width="0.5" />
<path d="M305.2,261.1L340.4,242.7" fill="none" stroke="#222" stroke-width="0.5" />
<path d="M315.3,257L333.2,247.6L333.2,251.4L315.3,260.8Z" fill="#ffffff" stroke="#333333" stroke-width="0.9" />
<path d="M309.3,263 L337.4,248.1 M309.3,264.4 L337.4,249.5" fill="none" stroke="#333333" stroke-width="0.5" />
<path d="M310.0,262.6L310.0,264.0" fill="none" stroke="#333333" stroke-width="0.4" />
<path d="M311.1,262.1L311.1,263.5" fill="none" stroke="#333333" stroke-width="0.4" />
<path d="M312.1,261.5L312.1,262.9" fill="none" stroke="#333333" stroke-width="0.4" />
<path d="M313.1,261.0L313.1,262.4" fill="none" stroke="#333333" stroke-width="0.4" />
<path d="M314.2,260.4L314.2,261.8" fill="none" stroke="#333333" stroke-width="0.4" />
<path d="M315.2,259.8L315.2,261.2" fill="none" stroke="#333333" stroke-width="0.4" />
<path d="M316.3,259.3L316.3,260.7" fill="none" stroke="#333333" stroke-width="0.4" />
<path d="M317.4,258.7L317.4,260.1" fill="none" stroke="#333333" stroke-width="0.4" />
<path d="M318.4,258.2L318.4,259.6" fill="none" stroke="#333333" stroke-width="0.4" />
<path d="M319.4,257.6L319.4,259.0" fill="none" stroke="#333333" stroke-width="0.4" />
<path d="M320.5,257.1L320.5,258.5" fill="none" stroke="#333333" stroke-width="0.4" />
<path d="M321.6,256.5L321.6,257.9" fill="none" stroke="#333333" stroke-width="0.4" />
<path d="M322.6,256.0L322.6,257.4" fill="none" stroke="#333333" stroke-width="0.4" />
<path d="M323.6,255.4L323.6,256.8" fill="none" stroke="#333333" stroke-width="0.4" />
<path d="M324.7,254.8L324.7,256.2" fill="none" stroke="#333333" stroke-width="0.4" />
<path d="M325.8,254.3L325.8,255.7" fill="none" stroke="#333333" stroke-width="0.4" />
<path d="M326.8,253.7L326.8,255.1" fill="none" stroke="#333333" stroke-width="0.4" />
<path d="M327.9,253.2L327.9,254.6" fill="none" stroke="#333333" stroke-width="0.4" />
<path d="M328.9,252.6L328.9,254.0" fill="none" stroke="#333333" stroke-width="0.4" />
<path d="M329.9,252.1L329.9,253.5" fill="none" stroke="#333333" stroke-width="0.4" />
<path d="M331.0,251.5L331.0,252.9" fill="none" stroke="#333333" stroke-width="0.4" />
<path d="M332.1,250.9L332.1,252.3" fill="none" stroke="#333333" stroke-width="0.4" />
<path d="M333.1,250.4L333.1,251.8" fill="none" stroke="#333333" stroke-width="0.4" />
<path d="M334.1,249.8L334.1,251.2" fill="none" stroke="#333333" stroke-width="0.4" />
<path d="M335.2,249.3L335.2,250.7" fill="none" stroke="#333333" stroke-width="0.4" />
<path d="M336.2,248.7L336.2,250.1" fill="none" stroke="#333333" stroke-width="0.4" />
<path d="M299.3,270.6L309,265.4L309,268.9L299.3,274.1Z" fill="none" stroke="#333333" stroke-width="0.9" />
<path d="M300.5,271.4 L303.3,269.9 L303.3,271.6 L300.5,273.1Z M304.4,269.3 L307.9,267.4 L307.9,268.9 L304.4,270.8Z" fill="none" stroke="#333333" stroke-width="0.9" />
<path d="M338.4,244.6L347.6,239.6L347.6,244L338.4,249Z" fill="none" stroke="#333333" stroke-width="0.9" />
<path d="M339.6,245.4 L342.5,243.9 L342.5,245.8 L339.6,247.3Z M343.6,243.3 L346.7,241.6 L346.7,243.4 L343.6,245.2Z" fill="none" stroke="#333333" stroke-width="0.9" />
<path d="M341.4,238.2 L344.8,232.4 L344.8,236.2 Z" fill="none" stroke="#333333" stroke-width="0.6" />
<path d="M279.5,271.5 L294,277.5 L349.4,246.8" fill="none" stroke="#333333" stroke-width="0.9" />
<path d="M294,277.5 L294,261.5" fill="none" stroke="#333333" stroke-width="0.9" />
<path d="M296.3,275 L296.3,262.4 L349.4,233.5" fill="none" stroke="#333333" stroke-width="0.6" />
<path d="M287.2,251.4 L288.4,255 Q290,257.4 293.5,257.6 L299.5,256.4 L301.4,254.6" fill="none" stroke="#333333" stroke-width="0.9" />
<path d="M287.6,257 L294.2,261.4 L300,258.6" fill="none" stroke="#333333" stroke-width="0.9" />
<path d="M281,257.4 L289.7,261.4 M281,262.6 L289.7,266.8 M281,267.8 L289.7,272.2" fill="none" stroke="#333333" stroke-width="1.5" />
<path d="M281,259.6 L289.7,263.6 M281,264.8 L289.7,269 M281,270 L289.7,274.4 M289.7,260.4 L289.7,275.7" fill="none" stroke="#333333" stroke-width="0.7" />
<path d="M246,254 L247.2,229.7 L257.9,233.1 C263,235.5 267.3,239.5 270.5,243.3 C274.1,247.2 277.5,253.1 278.8,258 L280.1,262.5 L279.5,271.5 L276.6,270.2 L275.8,262.5 C274.1,254.9 269.9,248 263.9,242.1 C260,239 255.8,239.6 253,241.5 C249.6,245 249,250 248.5,254.9 Z" fill="#ffffff" stroke="#333333" stroke-width="0.9" />
<path d="M250.2,254 C250.6,249 251.6,245.6 254,243.2 C257,241 260.4,241.6 263.4,244.2 C268.6,249 272.4,255.6 274,262.8" fill="none" stroke="#333333" stroke-width="0.6" />
<path d="M247.2,229.7 L286.9,250.6" fill="none" stroke="#333333" stroke-width="0.9" />
</g>
<path d="M533.6,251.2 L612.1,294.7 M531.8,252.8 L608,296.4" fill="none" stroke="#333333" stroke-width="0.9" />
<path d="M492.1,240.9 L519.4,255.1 L546.8,240.9 L546.8,244 L519.4,258.6 L492.1,244.2 Z" fill="#ffffff" stroke="#333333" stroke-width="0.9" />
<path d="M492.1,240.9 L519.4,226.6 L546.8,240.9 L519.4,255.1 Z" fill="#ffffff" stroke="#333333" stroke-width="0.9" />
<path d="M519.4,255.1L519.4,258.6" fill="none" stroke="#333333" stroke-width="0.9" />
<path d="M504.1,231 L504.1,240.9 L518.6,248.6 L534.4,240.9 L534.4,231 Z" fill="#ffffff" stroke="#333333" stroke-width="0.9" />
<path d="M504.1,236.5 L518.6,244 L534.4,236.5 M518.6,244 L518.6,248.6" fill="none" stroke="#333333" stroke-width="0.7" />
<path d="M504.1,234 L504.1,198.5 C504.1,186 534.4,186 534.4,198.5 L534.4,234 C534.4,240 504.1,240 504.1,234 Z" fill="#ffffff" stroke="#333333" stroke-width="0.9" />
<path d="M504.1,231.2 C504.1,237.2 534.4,237.2 534.4,231.2" fill="none" stroke="#333333" stroke-width="0.7" />
<path d="M565.2,248.6 L565.2,273.4 L572.9,278.5 L580.6,273.4 L580.6,249.5 L572.9,253.8 Z" fill="#ffffff" stroke="#333333" stroke-width="0.9" />
<path d="M572.9,253.8 L572.9,278.5 M565.2,248.6 L572.9,253.8" fill="none" stroke="#333333" stroke-width="0.9" />
<path d="M606.6,222 L606.6,243.4 Q606.4,246.6 602.6,248.7 L588,256.8 L592.5,259.4 L607.5,251 Q611.8,248 611.9,243 L611.9,224 Z" fill="#ffffff" stroke="none" stroke-width="0.9" />
<path d="M606.6,222 L606.6,243.4 Q606.4,246.6 602.6,248.7 L588,256.8 M611.9,224 L611.9,243 Q611.8,248 607.5,251 L592.5,259.4" fill="none" stroke="#333333" stroke-width="0.9" />
<path d="M606.6,225.8 L611.9,225.8 M606.6,227.6 L611.9,227.6 M606.6,241.8 L611.9,241.8" fill="none" stroke="#333333" stroke-width="0.6" />
<path d="M600.9,302.4 L628.2,317.8 L655.2,302.4 L655.2,305.8 L628.2,321.2 L600.9,305.8 Z" fill="#ffffff" stroke="#333333" stroke-width="0.9" />
<path d="M600.9,302.4 L628.2,287.9 L655.2,302.4 L628.2,317.8 Z" fill="#ffffff" stroke="#333333" stroke-width="0.9" />
<path d="M628.2,317.8L628.2,321.2" fill="none" stroke="#333333" stroke-width="0.9" />
<path d="M619.7,301.6 L628.2,297.3 L635.9,301.6 L628.2,306.2 Z" fill="#ffffff" stroke="#333333" stroke-width="0.9" />
<path d="M530,220.6 L625.8,276 Q631.5,279.5 631.7,285 L631.7,302.4 L625.8,302.4 L625.8,286.5 Q625.6,282.8 622.3,280.6 L528.3,226.6 Q525.6,224.6 526.6,222.2 Q527.8,219.6 530,220.6 Z" fill="#ffffff" stroke="#333333" stroke-width="0.9" />
<path d="M625.8,284.6 L631.7,284.6 M625.8,286 L631.7,286" fill="none" stroke="#333333" stroke-width="0.6" />
</svg>
</body></html>
